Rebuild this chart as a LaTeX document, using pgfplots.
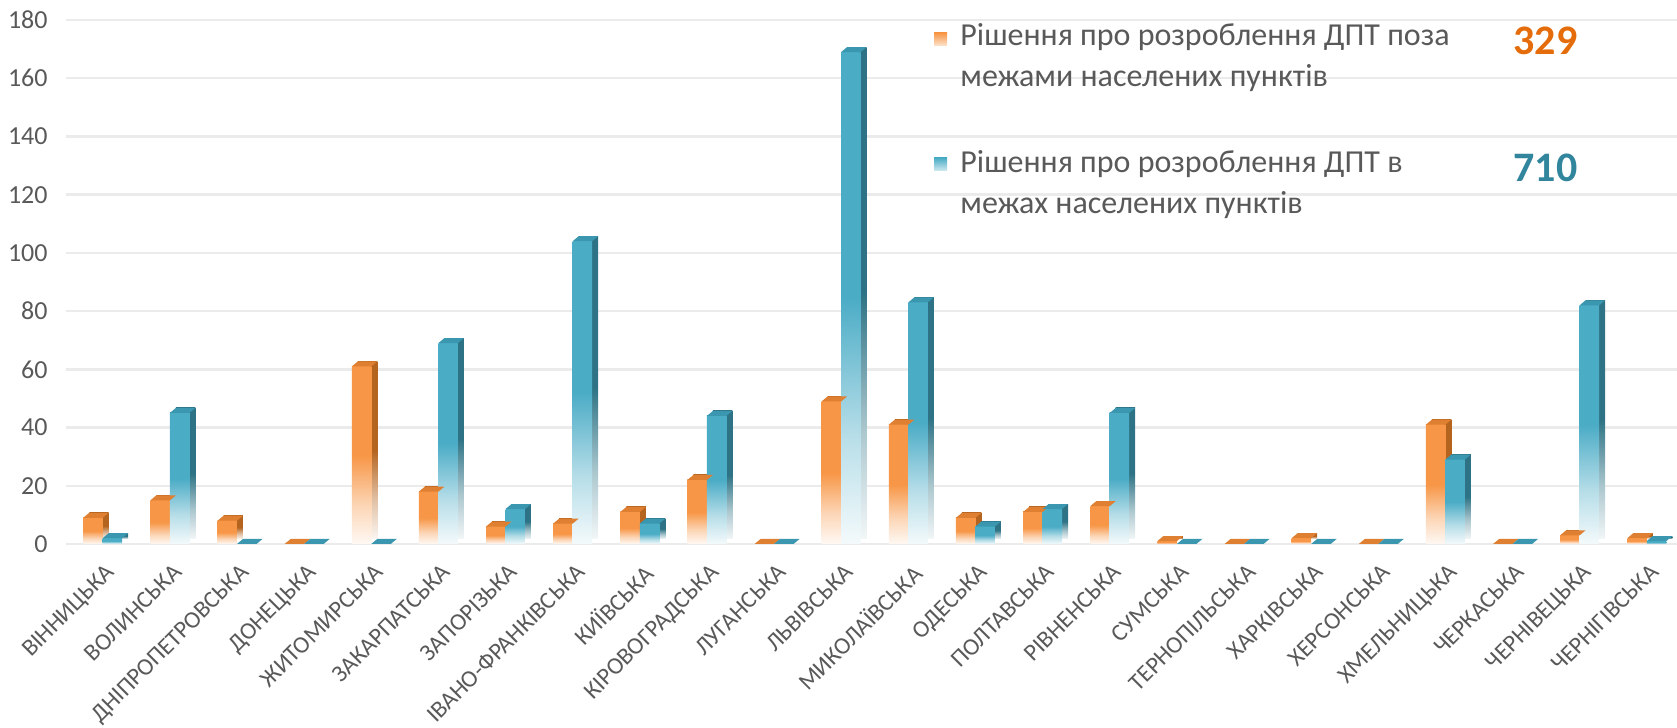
\documentclass[border=0pt]{standalone}
\usepackage{fontspec}
\setmainfont{Carlito}
\usepackage{pgfplots}
\usepackage{pgfplotstable}
\pgfplotsset{compat=1.18}

\definecolor{orF}{HTML}{F79646}
\definecolor{orT}{HTML}{DE7F32}
\definecolor{orS}{HTML}{B5641F}
\definecolor{blF}{HTML}{4BACC6}
\definecolor{blT}{HTML}{3A97AF}
\definecolor{blS}{HTML}{2E7385}
\definecolor{txt}{HTML}{595959}
\definecolor{nOr}{HTML}{E46C0A}
\definecolor{nBl}{HTML}{31859C}
\definecolor{grd}{HTML}{EBEBEB}

% bars fade to white towards the base
\pgfdeclareverticalshading{orfade}{100bp}{color(0bp)=(orF!6); color(25bp)=(orF!6); color(36bp)=(orF!40); color(50bp)=(orF); color(100bp)=(orF)}
\pgfdeclareverticalshading{orside}{100bp}{color(0bp)=(orS!6); color(25bp)=(orS!6); color(36bp)=(orS!40); color(50bp)=(orS); color(100bp)=(orS)}
\pgfdeclareverticalshading{blfade}{100bp}{color(0bp)=(blF!6); color(25bp)=(blF!6); color(36bp)=(blF!40); color(50bp)=(blF); color(100bp)=(blF)}
\pgfdeclareverticalshading{blside}{100bp}{color(0bp)=(blS!6); color(25bp)=(blS!6); color(36bp)=(blS!40); color(50bp)=(blS); color(100bp)=(blS)}

% top face of a 3d bar (bar width 9.74pt, depth 3pt x 2.5pt)
\pgfdeclareplotmark{otop}{%
  \pgfsetfillcolor{orT}%
  \pgfpathmoveto{\pgfpoint{-4.87pt}{0pt}}\pgfpathlineto{\pgfpoint{4.87pt}{0pt}}%
  \pgfpathlineto{\pgfpoint{7.87pt}{2.5pt}}\pgfpathlineto{\pgfpoint{-1.87pt}{2.5pt}}%
  \pgfpathclose\pgfusepath{fill}}
\pgfdeclareplotmark{btop}{%
  \pgfsetfillcolor{blT}%
  \pgfpathmoveto{\pgfpoint{-4.87pt}{0pt}}\pgfpathlineto{\pgfpoint{4.87pt}{0pt}}%
  \pgfpathlineto{\pgfpoint{7.87pt}{2.5pt}}\pgfpathlineto{\pgfpoint{-1.87pt}{2.5pt}}%
  \pgfpathclose\pgfusepath{fill}}

% o = outside settlements, b = inside settlements
\pgfplotstableread{
x o b
0 9 2
1 15 45
2 8 0
3 0 0
4 61 0
5 18 69
6 6 12
7 7 104
8 11 7
9 22 44
10 0 0
11 49 169
12 41 83
13 9 6
14 11 12
15 13 45
16 1 0
17 0 0
18 2 0
19 0 0
20 41 29
21 0 0
22 3 82
23 2 1
}\data

\begin{document}
\begin{tikzpicture}
\useasboundingbox (0,0) rectangle (838.5pt,364pt);
\begin{axis}[
    at={(33pt,92pt)}, anchor=south west,
    scale only axis, width=805.5pt, height=262pt,
    clip=false,
    xmin=-0.547, xmax=23.45,
    ymin=0, ymax=180,
    ytick={0,20,...,180},
    xtick={0,...,23},
    xticklabels={ВІННИЦЬКА, ВОЛИНСЬКА, ДНІПРОПЕТРОВСЬКА, ДОНЕЦЬКА, ЖИТОМИРСЬКА,
      ЗАКАРПАТСЬКА, ЗАПОРІЗЬКА, ІВАНО-ФРАНКІВСЬКА, КИЇВСЬКА, КІРОВОГРАДСЬКА,
      ЛУГАНСЬКА, ЛЬВІВСЬКА, МИКОЛАЇВСЬКА, ОДЕСЬКА, ПОЛТАВСЬКА, РІВНЕНСЬКА,
      СУМСЬКА, ТЕРНОПІЛЬСЬКА, ХАРКІВСЬКА, ХЕРСОНСЬКА, ХМЕЛЬНИЦЬКА, ЧЕРКАСЬКА,
      ЧЕРНІВЕЦЬКА, ЧЕРНІГІВСЬКА},
    axis line style={draw=none},
    major tick length=0pt,
    ymajorgrids,
    grid style={grd, line width=1.2pt},
    /pgf/number format/assume math mode=true,
    yticklabel style={font=\fontsize{13}{15}\selectfont, text=txt, anchor=east, inner sep=0pt, xshift=-9pt},
    xticklabel style={font=\fontsize{12}{14}\selectfont, text=txt, xshift=1pt, yshift=-9pt, rotate=45, anchor=north east, inner sep=0pt},
    every axis plot/.append style={draw=none},
]
% orange series: one plot per bar so that each bar gets its own fade
\pgfplotsinvokeforeach{0,...,23}{
  \addplot[ybar, bar width=0.29, bar shift=-0.145, shade, shading=orside, xshift=3pt, yshift=2.5pt,
    restrict x to domain=#1:#1, restrict y to domain=0.5:500] table[x=x, y=o] {\data};
  \addplot[ybar, bar width=0.29, bar shift=-0.145, shade, shading=orfade,
    restrict x to domain=#1:#1, restrict y to domain=0.5:500] table[x=x, y=o] {\data};
}
\addplot[only marks, mark=otop] table[x expr=\thisrow{x}-0.145, y=o] {\data};
% blue series
\pgfplotsinvokeforeach{0,...,23}{
  \addplot[ybar, bar width=0.29, bar shift=0.145, shade, shading=blside, xshift=3pt, yshift=2.5pt,
    restrict x to domain=#1:#1, restrict y to domain=0.5:500] table[x=x, y=b] {\data};
  \addplot[ybar, bar width=0.29, bar shift=0.145, shade, shading=blfade,
    restrict x to domain=#1:#1, restrict y to domain=0.5:500] table[x=x, y=b] {\data};
}
\addplot[only marks, mark=btop] table[x expr=\thisrow{x}+0.145, y=b] {\data};
\end{axis}

% legend
\shade[top color=orF, middle color=orF, bottom color=orF!25] (467pt,341pt) rectangle (473.5pt,347.5pt);
\node[anchor=west, align=left, text=txt, inner sep=0pt, font=\fontsize{16}{20.5}\selectfont] at (480pt,335.25pt)
  {Рішення про розроблення ДПТ поза\\межами населених пунктів};
\node[anchor=west, text=nOr, inner sep=0pt, font=\bfseries\fontsize{21}{24}\selectfont] at (756.5pt,343.7pt) {329};

\shade[top color=blF, middle color=blF, bottom color=blF!25] (467pt,278.5pt) rectangle (473.5pt,285pt);
\node[anchor=west, align=left, text=txt, inner sep=0pt, font=\fontsize{16}{20.5}\selectfont] at (480pt,271.75pt)
  {Рішення про розроблення ДПТ в\\межах населених пунктів};
\node[anchor=west, text=nBl, inner sep=0pt, font=\bfseries\fontsize{21}{24}\selectfont] at (756.5pt,280pt) {710};
\end{tikzpicture}
\end{document}
